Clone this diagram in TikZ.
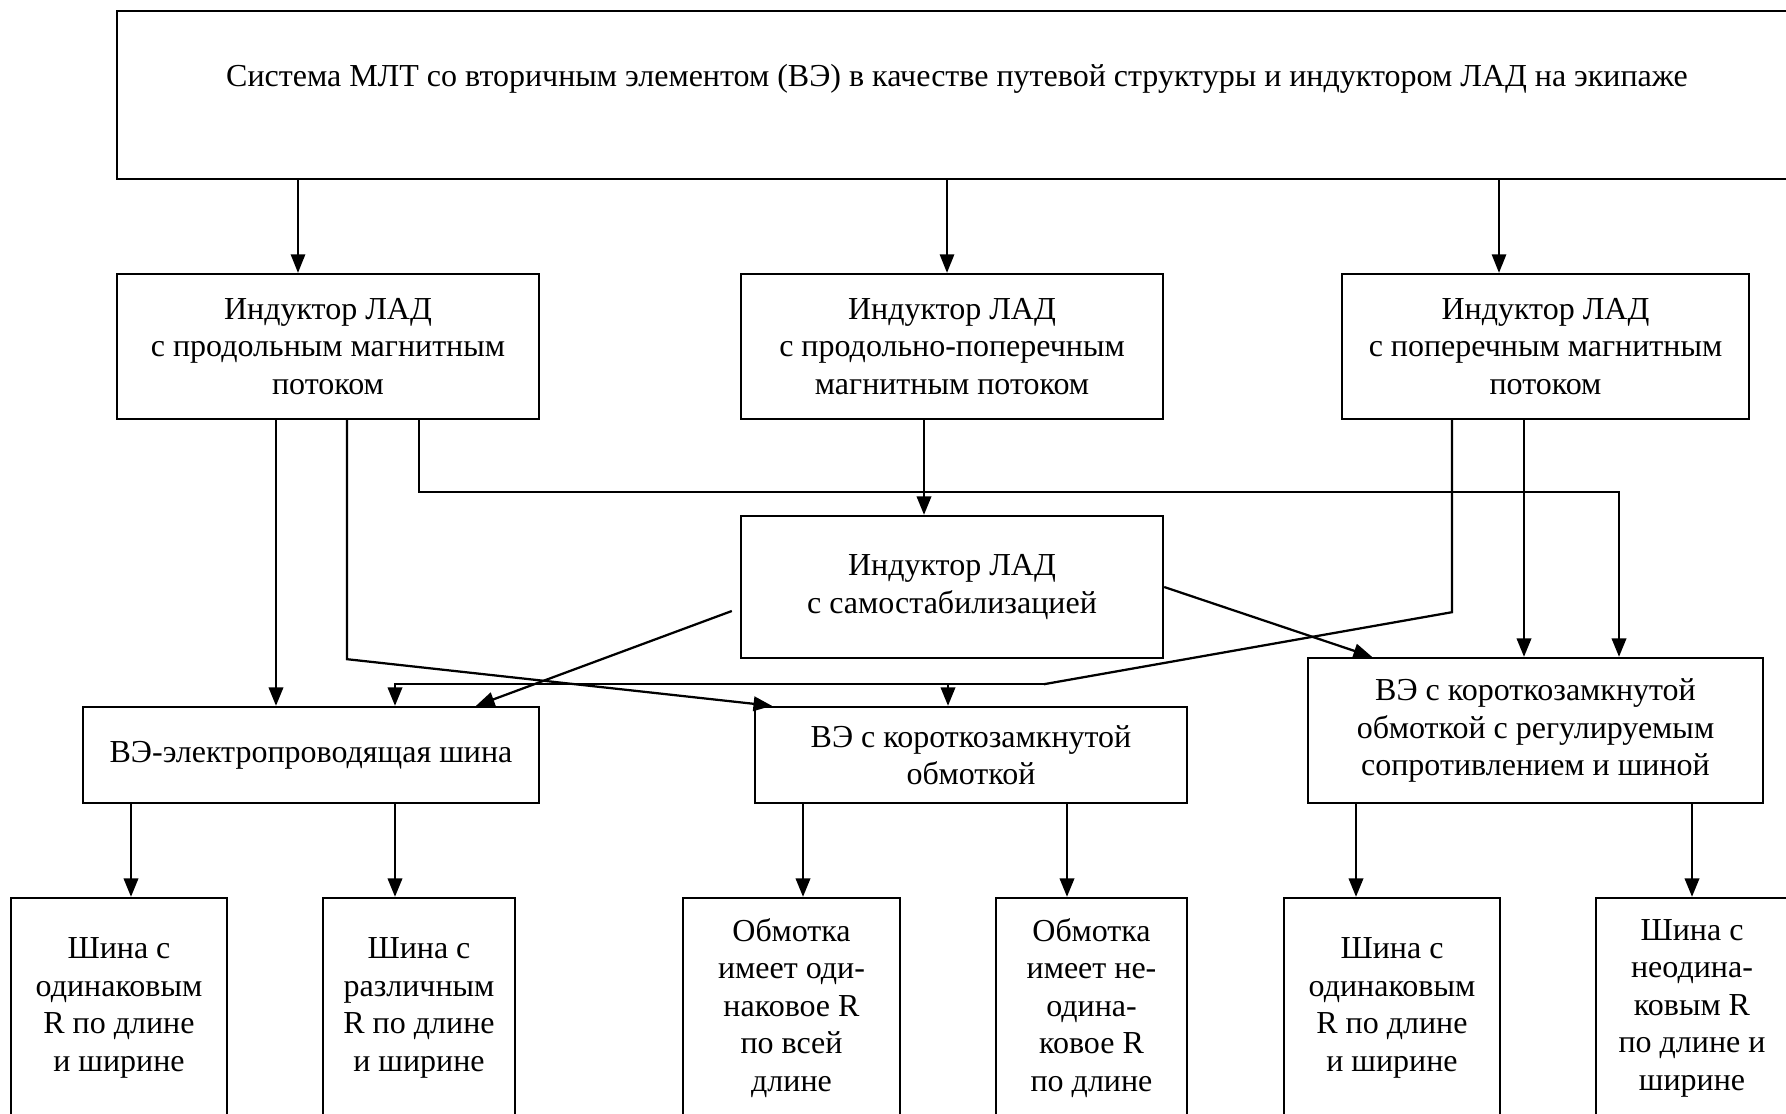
\documentclass[tikz,border=0pt]{standalone}
\usepackage{fontspec}
\setmainfont{Liberation Serif}
\usetikzlibrary{arrows.meta}
\usetikzlibrary{calc}

\tikzset{
	block/.style={draw=black, line width=0.95pt, align=center, inner sep=0pt, font=\fontsize{12.8}{15}\selectfont},
	link/.style={line width=0.9pt},
	arrow/.style={link, -{Triangle[length=7.4pt,width=5.8pt]}},
	thinarrow/.style={arrow, line width=0.55pt}
}

\begin{document}
\begin{tikzpicture}[x=0.4pt, y=-0.4pt]
\useasboundingbox (0,0) rectangle (1786,1113);
\clip (0,0) rectangle (1786,1113);

% system
\node[block, minimum width=672pt, minimum height=67.2pt] (sys) at (957,95) {};
\node[font=\fontsize{12.8}{15}\selectfont] (sysText) at (957,79) {Система МЛТ со вторичным элементом (ВЭ) в качестве путевой структуры и индуктором ЛАД на экипаже};

% inductors
\node[block, minimum width=168.8pt, minimum height=58pt] (indA) at (328,346.5) {Индуктор ЛАД\\с продольным магнитным\\потоком};
\node[block, minimum width=168.8pt, minimum height=58pt] (indB) at (952,346.5) {Индуктор ЛАД\\с продольно-поперечным\\магнитным потоком};
\node[block, minimum width=162.8pt, minimum height=58pt] (indC) at (1545.5,346.5) {Индуктор ЛАД\\с поперечным магнитным\\потоком};
\node[block, minimum width=168.8pt, minimum height=56.8pt] (indS) at (952,587) {Индуктор ЛАД\\с самостабилизацией};

% secondary elements
\node[block, minimum width=182.4pt, minimum height=38.4pt] (veE) at (311,755) {ВЭ-электропроводящая шина};
\node[block, minimum width=172.8pt, minimum height=38.4pt] (veF) at (971,755) {ВЭ с короткозамкнутой\\обмоткой};
\node[block, minimum width=182pt, minimum height=58pt] (veG) at (1535.5,730.5) {ВЭ с короткозамкнутой\\обмоткой с регулируемым\\сопротивлением и шиной};

% bottom row
\node[block, minimum width=86.4pt, minimum height=88pt] (b1) at (119,1008) {Шина с\\одинаковым\\R по длине\\и ширине};
\node[block, minimum width=76.8pt, minimum height=88pt] (b2) at (419,1008) {Шина с\\различным\\R по длине\\и ширине};
\node[block, minimum width=86.8pt, minimum height=88pt] (b3) at (791.5,1008) {Обмотка\\имеет оди-\\наковое R\\по всей\\длине};
\node[block, minimum width=76.4pt, minimum height=88pt] (b4) at (1091.5,1008) {Обмотка\\имеет не-\\одина-\\ковое R\\по длине};
\node[block, minimum width=86.4pt, minimum height=88pt] (b5) at (1392,1008) {Шина с\\одинаковым\\R по длине\\и ширине};
\node[block, minimum width=76.8pt, minimum height=88pt] (b6) at (1692,1008) {Шина с\\неодина-\\ковым R\\по длине и\\ширине};

% from the system
\draw[thinarrow] ([xshift=-12pt]indA.north |- sys.south) -- ([xshift=-12pt]indA.north);
\draw[thinarrow] ([xshift=-2pt]indB.north |- sys.south) -- ([xshift=-2pt]indB.north);
\draw[thinarrow] ([xshift=-18.6pt]indC.north |- sys.south) -- ([xshift=-18.6pt]indC.north);

% from the inductors
\draw[arrow] ([xshift=-20.8pt]indA.south) -- ([xshift=-20.8pt]indA.south |- veE.north);
\draw[arrow] ([xshift=7.6pt]indA.south) -- ([xshift=7.6pt]indA.south |- indS.south) -- ([xshift=-79.6pt]veF.north);
\draw[arrow] ([xshift=36.4pt]indA.south) -- ++(0,72) -| ([xshift=33.4pt]veG.north);
\draw[arrow] ([xshift=-11.2pt]indB.south) -- ([xshift=-11.2pt]indB.south |- indS.north);
\draw[arrow] ([xshift=-8.6pt]indC.south) -- ([xshift=-8.6pt]indC.south |- veG.north);
\draw[link] ([xshift=-37.4pt]indC.south) -- ++(0,192) -- ++(-408,72) coordinate (busEnd);
\draw[arrow] (busEnd) -| ([xshift=33.6pt]veE.north);
\draw[arrow] ([xshift=-9.2pt]veF.north |- busEnd) -- ([xshift=-9.2pt]veF.north);
\draw[arrow] ([xshift=-3.2pt,yshift=-9.6pt]indS.west) -- ([xshift=66pt]veE.north);
\draw[arrow] (indS.east) -- ([xshift=-65.4pt]veG.north);

% to the bottom row
\draw[arrow] ([xshift=4.8pt]b1.north |- veE.south) -- ([xshift=4.8pt]b1.north);
\draw[arrow] ([xshift=-9.6pt]b2.north |- veE.south) -- ([xshift=-9.6pt]b2.north);
\draw[arrow] ([xshift=4.6pt]b3.north |- veF.south) -- ([xshift=4.6pt]b3.north);
\draw[arrow] ([xshift=-9.8pt]b4.north |- veF.south) -- ([xshift=-9.8pt]b4.north);
\draw[arrow] ([xshift=-14.4pt]b5.north |- veG.south) -- ([xshift=-14.4pt]b5.north);
\draw[arrow] (b6.north |- veG.south) -- (b6.north);
\end{tikzpicture}
\end{document}
